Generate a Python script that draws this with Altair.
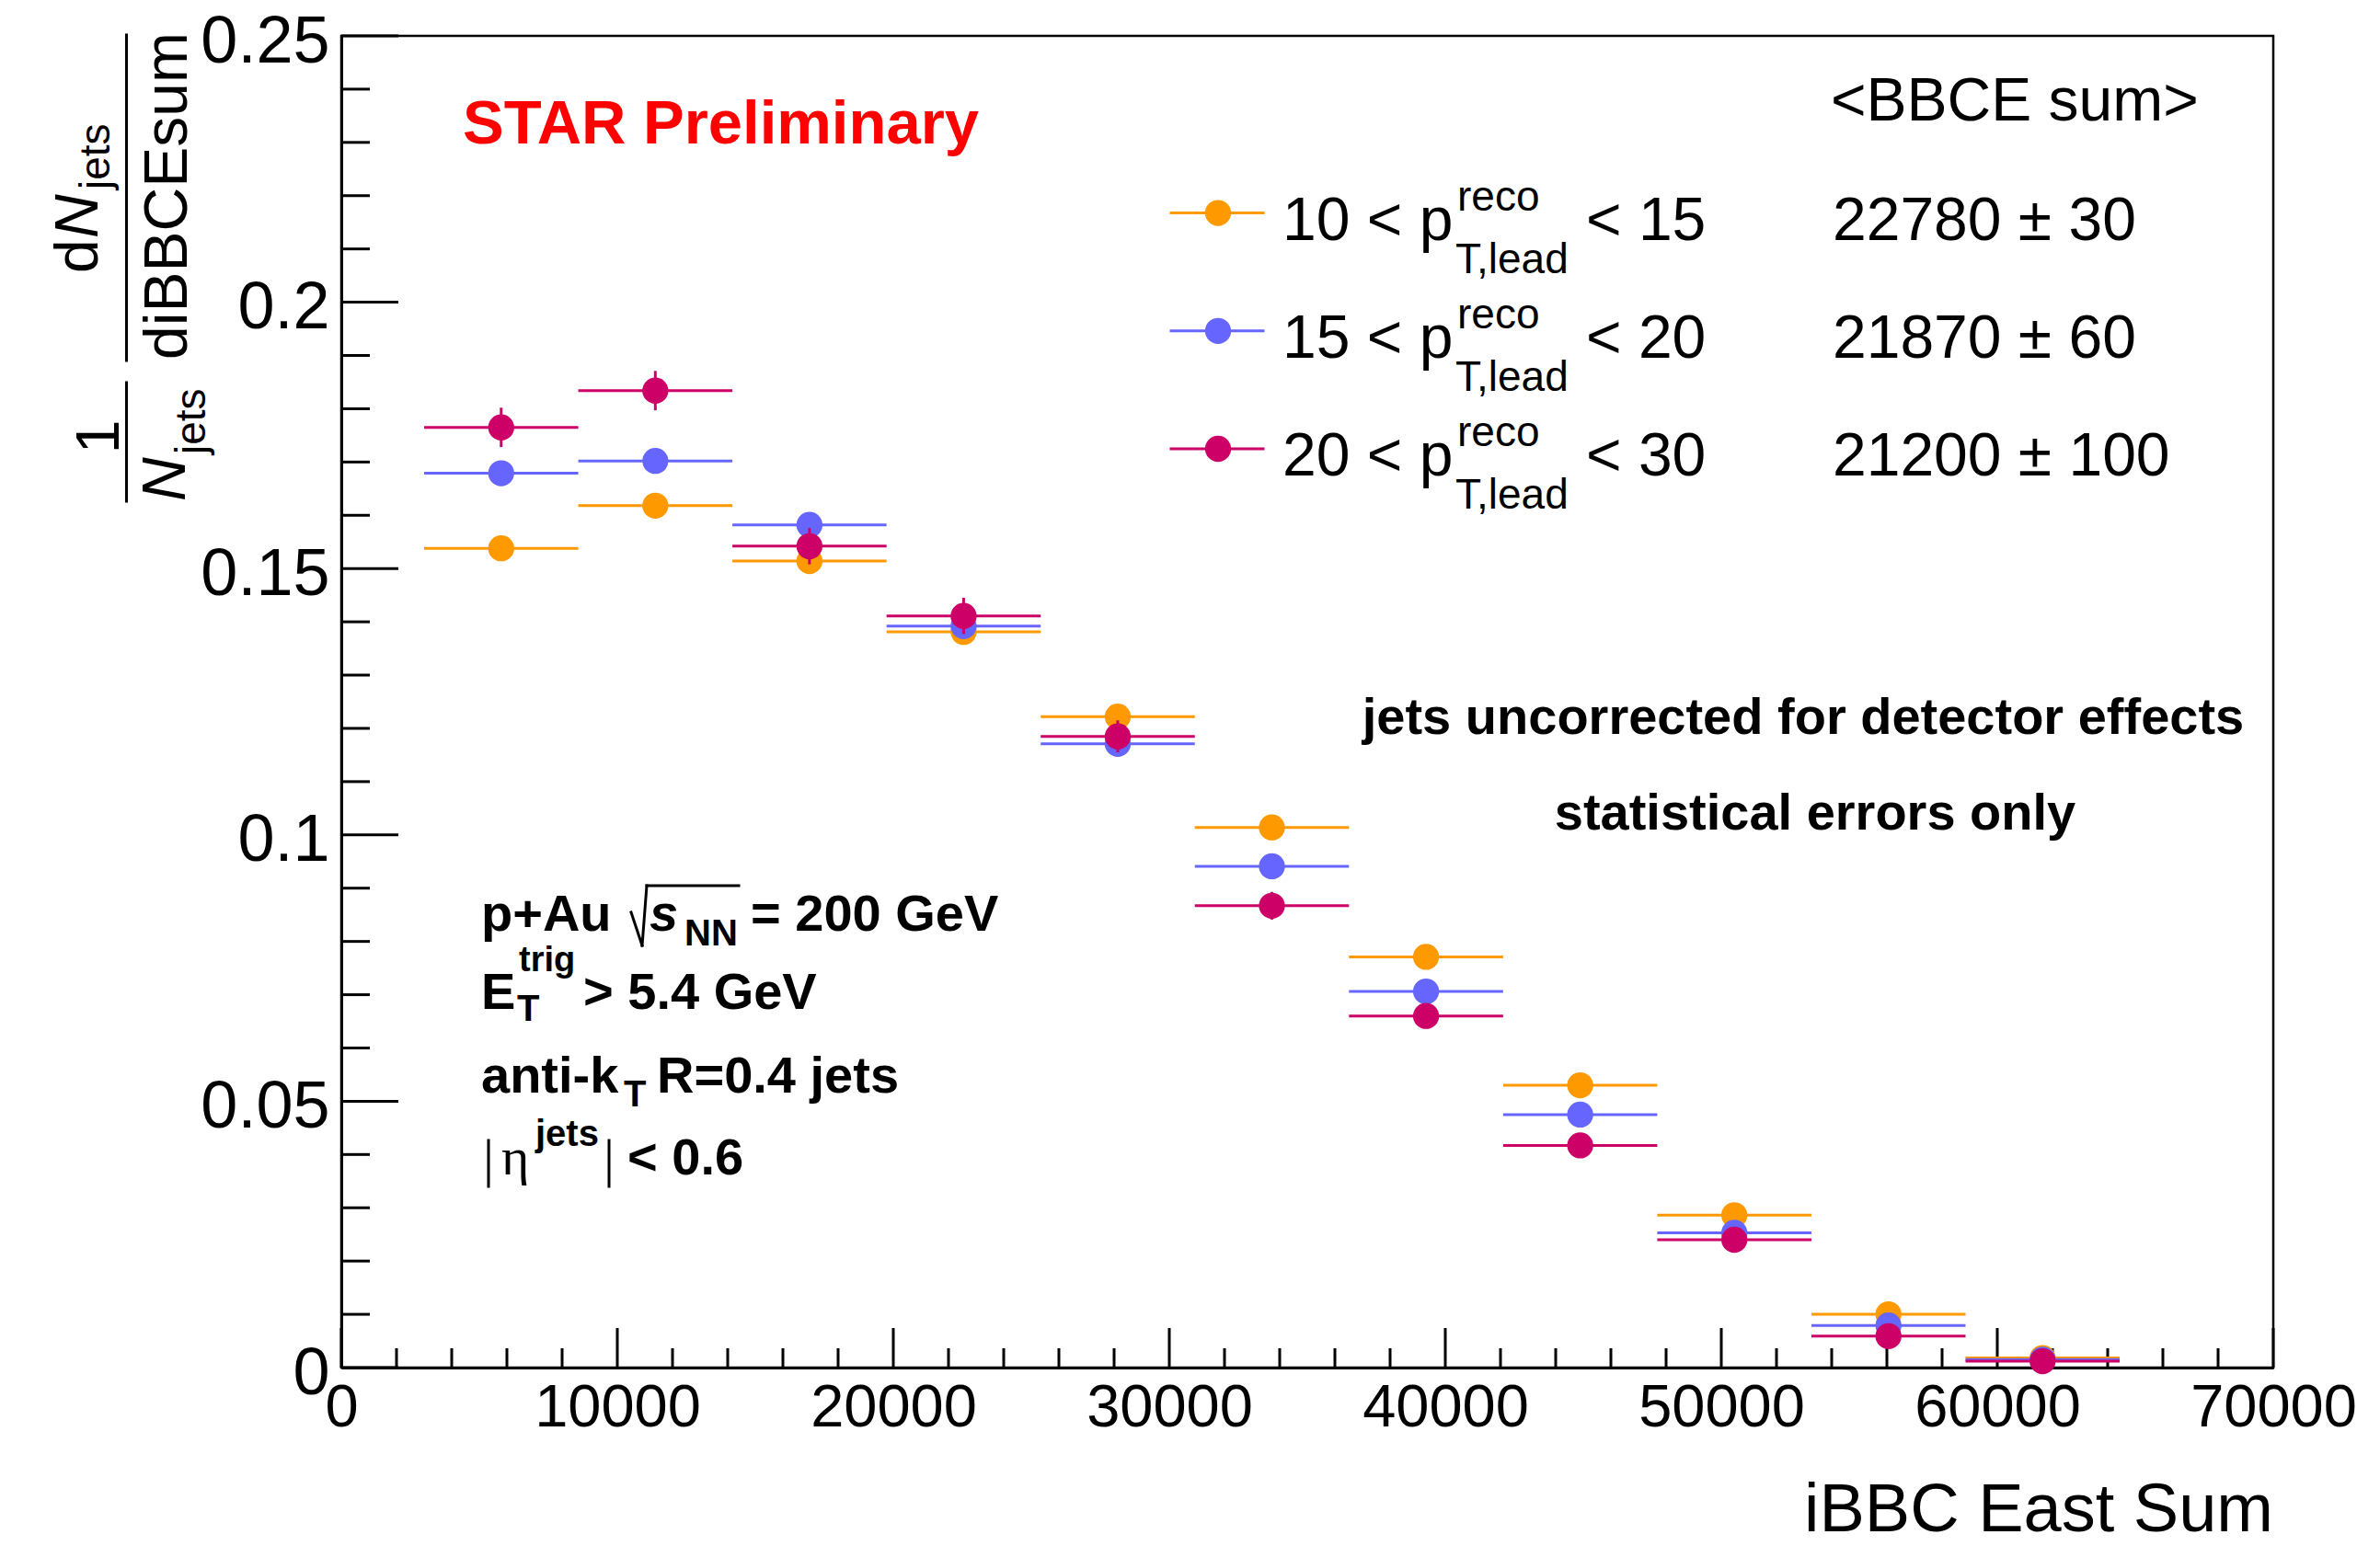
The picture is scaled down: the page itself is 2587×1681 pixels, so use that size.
import altair as alt
import pandas as pd

# ---------------- data ----------------
bin_lo = [3000, 8585, 14170, 19755, 25340, 30925, 36510, 42095, 47680, 53265, 58850]
bin_hi = [8585, 14170, 19755, 25340, 30925, 36510, 42095, 47680, 53265, 58850, 64435]

vals_10_15 = [0.1538, 0.1618, 0.1514, 0.1381, 0.1222, 0.1014, 0.0771, 0.0530, 0.0286, 0.0100, 0.0018]
errs_10_15 = [0.0011, 0.0011, 0.0011, 0.0010, 0.0010, 0.0009, 0.0008, 0.0007, 0.0005, 0.0003, 0.0001]

vals_15_20 = [0.1679, 0.1702, 0.1582, 0.1392, 0.1171, 0.0941, 0.0706, 0.0475, 0.0253, 0.0079, 0.0015]
errs_15_20 = [0.0022, 0.0022, 0.0021, 0.0020, 0.0018, 0.0016, 0.0014, 0.0012, 0.0009, 0.0005, 0.0002]

vals_20_30 = [0.1765, 0.1834, 0.1542, 0.1411, 0.1185, 0.0867, 0.0660, 0.0417, 0.0240, 0.0059, 0.0012]
errs_20_30 = [0.0037, 0.0037, 0.0034, 0.0034, 0.0030, 0.0026, 0.0023, 0.0018, 0.0014, 0.0007, 0.0003]

pt_lo = ["10", "15", "20"]
pt_hi = ["15", "20", "30"]
mean_bbce = ["22780 ± 30", "21870 ± 60", "21200 ± 100"]
colors = ["#ff9900", "#6666ff", "#cc0066"]

x_major = [0, 10000, 20000, 30000, 40000, 50000, 60000, 70000]
x_minor = [v for v in range(2000, 70000, 2000) if v % 10000]
y_major = [0, 0.05, 0.1, 0.15, 0.2, 0.25]
y_minor = [round(0.01 * i, 2) for i in range(1, 25) if i % 5]

# ---------------- layout ----------------
CW, CH = 2587, 1681
L, T = 371, 39
W, H = 2100, 1448
FONT = "Liberation Sans"
MARKER = 800

xs = alt.Scale(domain=[0, 70000], nice=False, zero=False)
ys = alt.Scale(domain=[0, 0.25], nice=False, zero=False)

xaxis = alt.Axis(values=x_major, format="d", labelFont=FONT, labelFontSize=65,
                 labelPadding=12, labelFlush=False, labelOverlap=False,
                 labelLimit=1000, labelColor="black", ticks=False, grid=False,
                 domainColor="black", domainWidth=3, title=None)
yaxis = alt.Axis(values=y_major, format="~g", labelFont=FONT, labelFontSize=72,
                 labelPadding=13, labelOffset=6, labelFlush=False, labelOverlap=False,
                 labelLimit=1000, labelColor="black", ticks=False, grid=False,
                 domainColor="black", domainWidth=3, title=None)


def X_(field):
    return alt.X(field, scale=xs, axis=xaxis)


def Y_(field):
    return alt.Y(field, scale=ys, axis=yaxis)


def px(X):
    return X - L


def py(Y):
    return Y - T


def txt(s, X, Y, size, weight="normal", style="normal", align="left",
        angle=0, color="black", font=FONT, baseline="alphabetic"):
    kw = dict(font=font, fontSize=size, fontWeight=weight, fontStyle=style,
              align=align, baseline=baseline, color=color)
    if angle:
        kw["angle"] = angle
    return alt.Chart(pd.DataFrame({"t": [s]})).mark_text(**kw).encode(
        text="t:N", x=alt.value(px(X)), y=alt.value(py(Y)))


def seg(X1, Y1, X2, Y2, width=3, color="black"):
    return alt.Chart(pd.DataFrame({"a": [0]})).mark_rule(
        color=color, strokeWidth=width, strokeCap="square").encode(
        x=alt.value(px(X1)), y=alt.value(py(Y1)),
        x2=alt.value(px(X2)), y2=alt.value(py(Y2)))


layers = []

# invisible anchor carrying the axes
layers.append(
    alt.Chart(pd.DataFrame({"x": [0], "y": [0]})).mark_point(opacity=0).encode(
        x=X_("x:Q"), y=Y_("y:Q"))
)

# inward tick marks
for vals, length in [(y_major, 62), (y_minor, 31)]:
    layers.append(
        alt.Chart(pd.DataFrame({"v": vals})).mark_rule(color="black", strokeWidth=3).encode(
            y=Y_("v:Q"), x=alt.value(0), x2=alt.value(length))
    )
for vals, length in [(x_major, 43), (x_minor, 21)]:
    layers.append(
        alt.Chart(pd.DataFrame({"v": vals})).mark_rule(color="black", strokeWidth=3).encode(
            x=X_("v:Q"), y=alt.value(H), y2=alt.value(H - length))
    )

# the three spectra: bin-width bars, statistical error bars, markers
for vals, errs, col in [(vals_10_15, errs_10_15, colors[0]),
                        (vals_15_20, errs_15_20, colors[1]),
                        (vals_20_30, errs_20_30, colors[2])]:
    df = pd.DataFrame({"lo": bin_lo, "hi": bin_hi, "val": vals, "err": errs})
    df["mid"] = (df["lo"] + df["hi"]) / 2
    df["ylo"] = df["val"] - df["err"]
    df["yhi"] = df["val"] + df["err"]
    base = alt.Chart(df)
    layers.append(base.mark_rule(color=col, strokeWidth=3).encode(
        x=X_("lo:Q"), x2="hi:Q", y=Y_("val:Q")))
    layers.append(base.mark_rule(color=col, strokeWidth=3).encode(
        x=X_("mid:Q"), y=Y_("ylo:Q"), y2="yhi:Q"))
    layers.append(base.mark_circle(color=col, size=MARKER, opacity=1).encode(
        x=X_("mid:Q"), y=Y_("val:Q")))

# x-axis title
layers.append(txt("iBBC East Sum", 2471, 1665, 74, align="right"))

# y-axis title: 1/N_jets  dN_jets/diBBCEsum (rotated)
layers.append(txt("1", 129, 475, 66, align="center", angle=270))
layers.append(seg(137.5, 416, 137.5, 545))
layers.append(txt("N", 201, 545, 66, style="italic", angle=270))
layers.append(txt("jets", 223, 494, 46, angle=270))
layers.append(txt("d", 106, 297, 66, angle=270))
layers.append(txt("N", 106, 259, 66, style="italic", angle=270))
layers.append(txt("jets", 119, 206, 46, angle=270))
layers.append(seg(137.5, 38, 137.5, 392))
layers.append(txt("diBBCEsum", 203, 213, 66, align="center", angle=270))

# header and legend
layers.append(txt("STAR Preliminary", 503, 156, 67, weight="bold", color="#ff0000"))
layers.append(txt("<BBCE sum>", 1990, 131, 66))
for i in range(3):
    dy = 128.2 * i
    yc = 231.6 + dy
    yb = 260.7 + dy
    layers.append(seg(1273, yc, 1373, yc, color=colors[i]))
    layers.append(
        alt.Chart(pd.DataFrame({"a": [0]})).mark_circle(color=colors[i], size=MARKER, opacity=1)
        .encode(x=alt.value(px(1324)), y=alt.value(py(yc)))
    )
    layers.append(txt(pt_lo[i] + " < p", 1394, yb, 66))
    layers.append(txt("reco", 1584, yb - 32, 46))
    layers.append(txt("T,lead", 1582, yb + 36, 46))
    layers.append(txt("< " + pt_hi[i], 1724, yb, 66))
    layers.append(txt(mean_bbce[i], 1992, yb, 66))

# notes on the right
layers.append(txt("jets uncorrected for detector effects", 1960, 798, 56,
                  weight="bold", align="center"))
layers.append(txt("statistical errors only", 1973, 902, 56,
                  weight="bold", align="center"))

# collision / selection block
layers.append(txt("p+Au", 523, 1012, 56, weight="bold"))
layers.append(seg(686, 992, 698, 1028, width=3))
layers.append(seg(698, 1028, 703, 963, width=3))
layers.append(seg(703, 963, 803, 963, width=3))
layers.append(txt("s", 706, 1012, 56, weight="bold", style="italic"))
layers.append(txt("NN", 744, 1028, 40, weight="bold"))
layers.append(txt("= 200 GeV", 816, 1012, 56, weight="bold"))

layers.append(txt("E", 523, 1097, 56, weight="bold"))
layers.append(txt("trig", 564, 1056, 38, weight="bold"))
layers.append(txt("T", 562, 1110, 40, weight="bold"))
layers.append(txt("> 5.4 GeV", 634, 1097, 56, weight="bold"))

layers.append(txt("anti-k", 523, 1188, 56, weight="bold"))
layers.append(txt("T", 678, 1203, 40, weight="bold"))
layers.append(txt("R=0.4 jets", 714, 1188, 56, weight="bold"))

layers.append(seg(531, 1240, 531, 1290, width=3))
layers.append(txt("η", 545, 1277, 58, font="Liberation Serif"))
layers.append(txt("jets", 582, 1246, 40, weight="bold"))
layers.append(seg(662, 1240, 662, 1290, width=3))
layers.append(txt("< 0.6", 682, 1277, 56, weight="bold"))

chart = (
    alt.layer(*layers)
    .properties(
        width=W, height=H,
        padding={"left": L, "top": T, "right": CW - L - W, "bottom": CH - T - H},
        autosize=alt.AutoSizeParams(type="none"),
        background="white",
    )
    .configure_view(stroke="black", strokeWidth=2.5)
)

chart.save("out.html", embed_options={"renderer": "svg", "actions": False})
